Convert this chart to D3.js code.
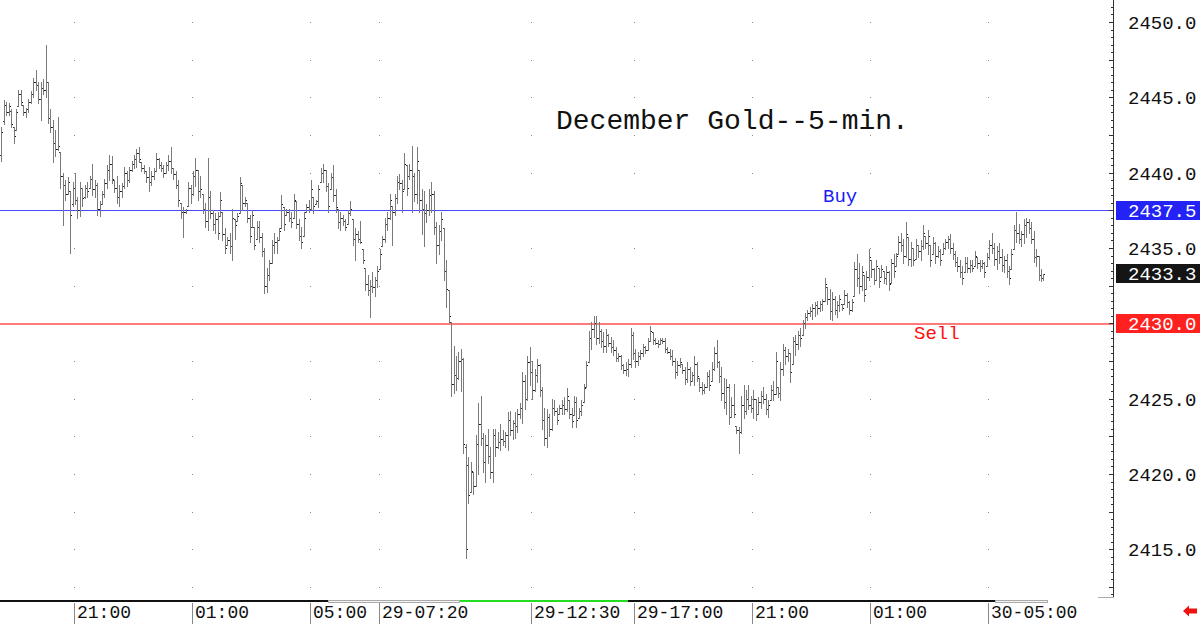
<!DOCTYPE html>
<html><head><meta charset="utf-8">
<script src="https://cdn.jsdelivr.net/npm/d3@7"></script>
<style>html,body{margin:0;padding:0;background:#fff;overflow:hidden}svg{display:block}</style>
</head><body>
<svg id="c" width="1200" height="624"></svg>
<script>
// ---- data (5-minute OHLC bars, December Gold) ----
const highs = [
2443.0,2444.8,2444.7,2444.6,2444.2,2443.0,2444.2,2445.5,2445.5,2444.5,
2444.3,2444.9,2445.4,2446.3,2446.8,2446.0,2446.0,2446.2,2448.5,2446.0,
2444.2,2443.5,2442.8,2443.7,2441.4,2440.0,2439.5,2439.7,2438.8,2439.4,
2440.0,2438.4,2439.4,2439.0,2439.2,2439.4,2439.8,2440.6,2439.5,2439.3,
2438.1,2438.8,2439.6,2440.5,2441.2,2441.1,2439.5,2439.8,2439.2,2439.3,
2440.4,2440.1,2440.4,2440.8,2441.2,2441.6,2441.7,2440.7,2440.5,2440.1,
2440.4,2440.1,2440.3,2441.3,2441.0,2440.7,2440.5,2440.7,2441.2,2441.7,
2440.3,2440.1,2439.5,2438.0,2437.7,2437.6,2439.4,2439.2,2440.1,2441.0,
2440.2,2439.8,2438.6,2438.0,2441.0,2438.8,2437.5,2437.3,2437.4,2438.7,
2437.4,2436.3,2435.7,2436.0,2437.6,2436.9,2437.3,2439.7,2439.2,2438.4,
2438.0,2437.2,2437.5,2436.4,2436.8,2436.8,2436.0,2435.0,2433.7,2434.2,
2435.5,2436.0,2435.7,2436.3,2438.5,2437.7,2437.6,2437.6,2437.4,2438.6,
2438.1,2436.9,2436.4,2437.4,2437.9,2438.2,2439.5,2438.4,2438.2,2439.2,
2440.3,2440.6,2440.2,2439.3,2440.0,2440.5,2438.9,2437.6,2437.4,2437.2,
2436.9,2437.5,2438.1,2436.9,2436.3,2436.1,2436.8,2434.9,2433.7,2433.2,
2432.9,2433.4,2433.1,2433.8,2434.9,2435.8,2437.0,2437.4,2438.6,2437.8,
2438.6,2439.8,2439.9,2439.5,2441.3,2440.5,2440.6,2441.8,2440.0,2441.7,
2440.2,2438.9,2438.8,2437.9,2438.9,2439.4,2438.8,2436.7,2436.5,2437.4,
2436.3,2434.2,2432.2,2430.1,2428.5,2427.8,2428.1,2428.3,2427.7,2422.0,
2421.1,2420.8,2420.1,2422.6,2424.7,2425.2,2422.7,2422.6,2423.0,2421.8,
2423.0,2423.0,2422.8,2423.3,2422.9,2422.8,2424.1,2424.2,2423.6,2424.1,
2424.3,2424.7,2426.8,2426.6,2427.8,2428.4,2427.5,2427.0,2427.6,2427.3,
2425.8,2424.4,2424.3,2424.0,2425.0,2424.9,2424.4,2424.6,2424.9,2425.1,
2425.7,2424.9,2424.4,2425.2,2425.1,2424.4,2424.9,2426.0,2427.5,2429.5,
2430.1,2430.5,2430.5,2430.1,2429.6,2429.4,2429.6,2429.3,2429.1,2428.9,
2428.4,2428.0,2427.9,2427.3,2427.4,2427.6,2429.7,2429.4,2428.3,2428.1,
2428.2,2428.6,2428.5,2429.0,2429.8,2429.4,2429.0,2428.9,2429.0,2429.0,
2429.0,2428.4,2428.3,2428.2,2427.7,2427.5,2427.7,2427.3,2427.1,2427.4,
2427.1,2426.8,2427.8,2427.4,2426.4,2426.1,2426.0,2426.8,2426.9,2427.4,
2428.4,2428.9,2427.5,2427.1,2426.4,2426.3,2426.0,2425.1,2426.0,2423.2,
2423.1,2425.2,2425.9,2425.6,2425.9,2425.2,2425.6,2425.0,2425.1,2425.5,
2425.8,2425.3,2424.9,2425.9,2426.2,2428.1,2425.8,2427.4,2428.6,2428.4,
2428.3,2428.0,2429.1,2429.2,2429.5,2429.7,2430.2,2430.7,2430.9,2431.1,
2431.3,2431.4,2431.5,2431.5,2431.6,2433.0,2432.4,2432.3,2432.1,2431.8,
2431.5,2431.9,2431.3,2432.2,2432.0,2431.5,2431.6,2434.1,2434.6,2434.0,
2433.8,2433.2,2433.5,2434.9,2434.2,2433.7,2434.2,2433.7,2433.9,2433.5,
2433.8,2433.5,2434.3,2434.6,2434.7,2435.8,2436.0,2435.6,2436.7,2435.7,
2435.4,2435.0,2435.6,2435.2,2435.5,2436.5,2435.8,2436.2,2435.2,2435.7,
2435.4,2435.1,2434.9,2435.3,2435.6,2435.8,2435.9,2435.3,2434.8,2434.4,
2434.2,2433.8,2434.4,2434.4,2434.2,2434.2,2434.8,2434.4,2434.2,2434.2,
2434.1,2434.7,2435.5,2436.0,2435.3,2435.1,2435.3,2434.9,2434.5,2434.6,
2433.8,2434.9,2436.5,2437.4,2436.6,2436.1,2436.9,2437.0,2436.9,2436.7,
2436.1,2434.9,2434.5,2433.6,2433.3];
const lows = [
2440.8,2443.2,2443.8,2443.8,2443.0,2442.0,2442.8,2444.4,2444.5,2443.8,
2443.7,2444.0,2444.6,2445.0,2445.5,2444.6,2443.5,2445.2,2445.0,2443.3,
2442.7,2440.7,2441.1,2441.5,2439.0,2436.5,2438.2,2438.6,2434.7,2437.8,
2437.9,2437.0,2437.1,2437.8,2438.3,2438.4,2439.0,2438.5,2438.4,2437.2,
2437.1,2437.9,2438.4,2439.0,2439.5,2439.3,2438.7,2438.0,2437.8,2438.4,
2439.0,2439.1,2439.4,2440.1,2440.3,2440.4,2440.7,2440.1,2440.0,2439.4,
2438.8,2439.2,2439.6,2440.1,2440.3,2440.1,2439.7,2440.0,2440.2,2440.0,
2439.6,2439.0,2437.8,2437.0,2435.7,2437.3,2437.8,2438.0,2438.5,2439.1,
2438.2,2438.4,2437.3,2436.4,2436.2,2437.0,2436.2,2436.0,2435.6,2437.1,
2435.5,2434.7,2435.2,2434.7,2434.2,2435.6,2436.8,2437.3,2437.5,2437.8,
2436.7,2435.4,2436.4,2434.9,2435.6,2435.4,2434.5,2432.0,2432.1,2432.9,
2434.0,2434.7,2434.7,2435.5,2436.3,2436.2,2437.2,2436.8,2436.4,2437.0,
2436.3,2435.5,2435.0,2435.8,2437.4,2437.4,2437.6,2437.3,2437.9,2437.7,
2439.4,2439.4,2438.8,2437.4,2438.9,2438.1,2437.4,2436.3,2436.2,2436.5,
2436.2,2436.6,2437.2,2435.2,2434.2,2435.4,2435.3,2434.0,2432.2,2431.9,
2430.4,2432.1,2431.8,2432.4,2433.6,2435.1,2435.4,2436.2,2436.9,2435.2,
2437.2,2438.0,2438.9,2437.4,2438.9,2438.5,2439.6,2437.4,2438.1,2438.0,
2437.4,2435.9,2435.1,2436.7,2437.2,2437.4,2435.9,2434.0,2434.6,2435.5,
2432.9,2431.1,2430.1,2425.2,2425.4,2425.6,2426.3,2425.5,2421.4,2414.4,
2418.1,2418.8,2418.7,2419.2,2420.0,2421.9,2420.1,2419.5,2420.7,2419.7,
2419.5,2421.2,2421.7,2421.6,2421.9,2421.8,2421.6,2422.6,2422.3,2422.4,
2422.8,2423.7,2423.4,2424.3,2424.9,2425.9,2425.0,2425.5,2426.1,2425.2,
2423.0,2421.9,2421.8,2422.5,2422.9,2423.9,2423.3,2424.0,2424.0,2424.0,
2424.2,2423.7,2423.1,2423.9,2423.1,2423.7,2423.9,2424.8,2425.8,2427.4,
2428.3,2429.1,2428.6,2428.7,2428.4,2428.1,2428.1,2428.5,2428.1,2427.9,
2427.5,2427.5,2427.0,2426.7,2426.6,2426.5,2427.1,2427.6,2427.1,2427.2,
2427.6,2427.8,2428.0,2428.2,2428.8,2428.6,2428.6,2428.4,2428.6,2428.7,
2428.1,2428.0,2427.6,2427.2,2426.4,2426.6,2427.1,2426.7,2426.0,2426.1,
2425.9,2426.2,2425.9,2426.2,2425.5,2425.3,2425.4,2425.8,2425.6,2426.2,
2426.9,2427.1,2426.1,2424.9,2424.4,2424.0,2423.3,2423.8,2423.8,2422.7,
2421.4,2422.7,2423.7,2424.0,2424.3,2424.1,2423.7,2423.6,2424.0,2424.4,
2424.7,2424.0,2423.8,2424.9,2424.9,2425.3,2425.1,2424.9,2426.6,2427.3,
2427.5,2426.1,2427.3,2427.9,2428.3,2428.5,2429.2,2429.7,2430.2,2430.5,
2430.3,2430.5,2430.6,2430.8,2430.9,2431.5,2431.3,2430.3,2430.2,2430.6,
2430.4,2430.8,2430.9,2431.3,2431.1,2430.6,2430.8,2431.8,2432.5,2432.0,
2432.2,2431.5,2432.3,2432.9,2433.1,2432.6,2432.9,2432.4,2433.1,2432.7,
2432.6,2432.2,2432.7,2433.1,2433.8,2434.6,2434.8,2434.0,2434.4,2433.9,
2433.8,2433.9,2434.3,2434.4,2434.2,2434.9,2435.0,2434.6,2433.8,2434.6,
2434.0,2434.4,2433.9,2434.6,2434.9,2435.0,2434.7,2434.3,2433.8,2433.5,
2433.1,2432.6,2433.4,2433.4,2433.4,2433.5,2433.8,2433.7,2433.5,2433.7,
2433.1,2433.8,2434.3,2434.7,2433.9,2433.6,2434.0,2433.5,2433.4,2433.1,
2432.6,2433.6,2434.9,2435.4,2435.3,2435.1,2435.3,2435.7,2436.0,2435.3,
2434.1,2433.8,2432.9,2432.8,2432.9];
const opens = [
2441.2,2443.4,2444.5,2444.0,2444.1,2443.0,2442.8,2444.4,2445.2,2444.5,
2444.0,2444.2,2444.7,2445.2,2446.0,2445.8,2444.9,2445.6,2445.5,2446.0,
2443.6,2443.0,2442.0,2441.6,2441.4,2439.8,2439.2,2438.6,2438.8,2437.9,
2439.0,2438.2,2437.5,2439.0,2438.4,2439.0,2439.0,2439.6,2438.9,2439.2,
2437.6,2437.9,2438.6,2439.3,2440.2,2440.6,2439.5,2439.0,2438.4,2438.8,
2439.1,2440.0,2439.5,2440.2,2440.6,2440.9,2441.3,2440.7,2440.3,2440.1,
2439.7,2439.4,2439.8,2440.1,2440.9,2440.5,2440.3,2440.0,2440.5,2440.8,
2440.3,2439.9,2439.2,2438.0,2437.4,2437.4,2437.8,2439.0,2438.6,2439.8,
2440.2,2438.8,2438.6,2437.6,2436.8,2438.4,2437.3,2436.6,2436.9,2437.1,
2437.4,2435.9,2435.2,2435.5,2435.1,2436.9,2436.8,2437.3,2439.2,2438.0,
2438.0,2437.0,2436.4,2436.4,2435.6,2436.4,2435.7,2434.8,2432.5,2433.2,
2434.0,2435.2,2435.4,2435.5,2436.3,2437.7,2437.2,2437.4,2437.0,2437.0,
2438.1,2436.6,2435.8,2435.8,2437.4,2437.7,2437.6,2438.4,2437.9,2438.1,
2439.4,2440.0,2440.2,2439.1,2438.9,2439.7,2438.5,2437.6,2436.7,2437.0,
2436.8,2436.6,2437.3,2436.9,2435.6,2435.9,2435.6,2434.9,2433.7,2432.6,
2432.2,2432.5,2432.4,2432.9,2433.6,2435.1,2435.6,2436.6,2437.0,2437.8,
2437.4,2438.3,2439.4,2439.3,2438.9,2440.5,2439.8,2440.2,2439.8,2438.6,
2440.2,2438.2,2437.6,2437.3,2437.5,2438.5,2438.6,2436.4,2435.2,2436.1,
2436.3,2433.5,2432.2,2430.1,2426.0,2426.6,2426.4,2427.5,2427.6,2421.8,
2420.6,2418.8,2420.1,2419.2,2422.0,2423.3,2422.4,2420.8,2421.9,2421.2,
2420.1,2422.6,2421.8,2422.1,2422.3,2422.2,2422.6,2423.6,2422.9,2423.4,
2423.2,2424.0,2424.4,2426.2,2425.0,2427.4,2426.8,2425.6,2426.6,2427.2,
2425.6,2423.6,2422.4,2423.8,2423.0,2424.4,2424.2,2424.0,2424.4,2424.6,
2424.3,2424.9,2424.0,2423.9,2424.8,2423.7,2424.2,2424.8,2425.8,2427.4,
2429.0,2429.6,2430.0,2429.0,2429.5,2428.8,2428.5,2429.2,2428.7,2428.4,
2428.2,2427.7,2427.8,2427.2,2426.9,2427.0,2427.3,2429.2,2428.0,2427.5,
2427.8,2428.0,2428.4,2428.2,2428.8,2429.4,2428.9,2428.7,2428.6,2428.9,
2428.8,2428.3,2428.1,2427.8,2427.5,2426.8,2427.2,2427.3,2426.9,2426.3,
2427.0,2426.2,2426.6,2427.3,2426.4,2425.8,2425.6,2425.8,2426.5,2426.2,
2427.0,2428.0,2427.4,2426.5,2425.4,2424.8,2425.8,2423.8,2424.6,2423.2,
2422.9,2422.8,2424.6,2424.2,2425.0,2424.6,2424.4,2425.0,2424.0,2424.8,
2425.2,2425.0,2424.3,2424.9,2425.6,2425.3,2425.8,2425.4,2427.0,2428.2,
2427.8,2428.0,2427.3,2428.8,2428.6,2429.2,2429.2,2430.0,2430.4,2430.7,
2430.8,2431.0,2431.2,2431.0,2431.3,2431.5,2432.4,2431.6,2430.8,2431.6,
2430.9,2431.2,2431.3,2431.3,2431.9,2431.4,2430.9,2431.8,2433.6,2433.0,
2432.5,2433.2,2432.3,2433.1,2434.2,2433.6,2432.9,2433.7,2433.1,2433.5,
2433.0,2433.4,2432.7,2434.0,2433.8,2434.6,2435.4,2435.2,2434.5,2435.7,
2434.3,2435.0,2434.3,2435.2,2434.8,2435.1,2435.8,2435.3,2435.2,2434.6,
2435.3,2434.5,2434.8,2434.6,2435.0,2435.4,2435.6,2435.0,2434.6,2434.1,
2433.8,2433.4,2433.4,2434.0,2433.7,2433.9,2433.8,2434.4,2434.0,2433.8,
2434.0,2433.8,2434.4,2435.2,2435.0,2434.3,2434.8,2434.4,2433.9,2434.2,
2433.5,2433.6,2434.9,2436.2,2436.0,2435.6,2435.9,2436.5,2436.7,2436.3,
2435.6,2434.4,2434.5,2433.2,2433.0];
const closes = [
2442.7,2444.5,2444.0,2444.4,2443.2,2442.4,2444.0,2445.2,2444.7,2444.0,
2444.2,2444.7,2445.2,2446.0,2445.8,2444.9,2445.6,2445.5,2446.0,2443.6,
2443.0,2442.0,2441.6,2441.8,2439.8,2439.2,2438.6,2439.4,2437.2,2439.0,
2438.2,2437.5,2439.0,2438.3,2439.0,2438.8,2439.6,2438.9,2439.2,2437.6,
2437.9,2438.6,2439.3,2440.2,2440.6,2439.6,2439.0,2438.4,2438.8,2439.1,
2440.0,2439.5,2440.2,2440.6,2440.9,2441.3,2440.9,2440.3,2440.1,2439.7,
2439.4,2439.8,2440.1,2440.9,2440.5,2440.3,2440.0,2440.5,2440.8,2440.3,
2439.9,2439.2,2438.2,2437.4,2437.4,2437.5,2439.0,2438.6,2439.8,2440.2,
2438.8,2438.9,2437.6,2436.8,2438.4,2437.3,2436.6,2436.9,2436.0,2438.2,
2435.9,2435.0,2435.5,2435.1,2437.0,2436.5,2437.1,2439.3,2438.0,2438.2,
2437.0,2435.8,2437.2,2435.2,2436.4,2435.7,2434.8,2432.5,2433.2,2434.0,
2435.2,2435.4,2435.5,2436.1,2437.9,2436.6,2437.4,2437.0,2436.7,2438.2,
2436.6,2435.8,2435.4,2437.0,2437.7,2437.6,2438.9,2437.8,2438.1,2438.9,
2440.0,2440.2,2439.1,2437.8,2439.7,2438.5,2437.7,2436.7,2437.0,2436.8,
2436.4,2437.3,2437.6,2435.6,2435.9,2435.6,2435.4,2434.2,2432.6,2432.2,
2432.5,2432.4,2432.9,2433.5,2434.6,2435.6,2436.6,2437.0,2438.2,2437.4,
2438.3,2439.4,2439.3,2438.8,2440.6,2439.0,2440.2,2439.8,2438.6,2440.8,
2438.2,2437.6,2437.3,2437.5,2438.5,2438.6,2436.4,2435.2,2436.1,2436.9,
2433.5,2432.3,2430.5,2426.0,2426.6,2426.4,2427.5,2427.6,2422.0,2415.0,
2418.6,2420.2,2419.2,2422.0,2423.3,2422.4,2420.8,2421.9,2421.2,2420.1,
2422.6,2421.8,2422.1,2422.3,2422.2,2422.6,2423.6,2422.9,2423.4,2423.2,
2424.0,2424.4,2426.2,2425.0,2427.4,2426.8,2425.6,2426.6,2427.2,2425.6,
2423.6,2422.4,2423.8,2423.0,2424.4,2424.2,2423.6,2424.4,2424.6,2424.3,
2425.2,2424.0,2423.5,2424.8,2423.6,2424.2,2424.6,2425.7,2427.2,2429.0,
2429.6,2430.0,2429.0,2429.5,2428.8,2428.5,2429.2,2428.7,2428.4,2428.2,
2427.7,2427.8,2427.2,2426.9,2427.0,2427.3,2429.2,2428.0,2427.5,2427.8,
2428.0,2428.4,2428.2,2428.8,2429.5,2428.9,2428.7,2428.6,2428.9,2428.8,
2428.3,2428.1,2427.8,2427.5,2426.8,2427.2,2427.4,2426.9,2426.3,2427.0,
2426.2,2426.6,2427.3,2426.5,2425.8,2425.6,2425.8,2426.5,2425.9,2427.0,
2428.0,2427.4,2426.5,2425.4,2424.8,2425.8,2423.8,2424.6,2424.0,2422.9,
2422.8,2424.6,2424.2,2425.0,2424.6,2424.4,2425.0,2424.0,2424.8,2425.2,
2425.0,2424.3,2424.6,2425.6,2425.3,2427.5,2425.4,2427.0,2428.2,2427.8,
2428.0,2426.8,2428.8,2428.6,2429.2,2429.0,2430.0,2430.4,2430.7,2430.8,
2431.0,2431.2,2431.0,2431.3,2431.5,2432.6,2431.6,2430.8,2431.6,2430.9,
2431.2,2431.6,2431.0,2431.9,2431.4,2430.9,2431.4,2433.6,2433.0,2432.5,
2433.4,2431.9,2433.1,2434.4,2433.6,2432.9,2433.8,2432.8,2433.6,2433.0,
2433.4,2432.6,2434.0,2433.5,2434.5,2435.4,2435.2,2434.5,2435.9,2434.3,
2435.0,2434.2,2435.2,2434.8,2435.1,2436.0,2435.3,2435.8,2434.2,2435.3,
2434.5,2434.8,2434.2,2435.0,2435.4,2435.6,2435.0,2434.6,2434.1,2433.8,
2433.4,2433.0,2434.0,2433.7,2433.9,2433.7,2434.5,2434.0,2433.8,2434.0,
2433.4,2434.4,2435.2,2435.0,2434.3,2434.8,2434.4,2433.9,2434.2,2433.5,
2433.0,2434.6,2436.2,2436.0,2435.6,2435.9,2436.5,2436.7,2436.3,2435.6,
2434.4,2434.5,2433.2,2433.0,2433.3];

const timeLabels = ["21:00","01:00","05:00","29-07:20","29-12:30","29-17:00","21:00","01:00","30-05:00"];
const timeLabelBar = [30,78,126,154,216,258,306,354,402];
const priceTicks = [2415,2420,2425,2430,2435,2440,2445,2450];
const buyLevel = 2437.5, sellLevel = 2430.0;
const lastPrice = closes[closes.length-1];
const title = "December Gold--5-min.";

// ---- drawing ----
const svg = d3.select("#c");
svg.append("rect").attr("width",1200).attr("height",624).attr("fill","#fff");
const MONO = "'Liberation Mono','DejaVu Sans Mono',monospace";

const x = d3.scaleLinear().domain([0, 424]).range([1.26, 1.26 + 424*2.458]);
const y = d3.scaleLinear().domain([2415, 2450]).range([549.3, 22]);
const axisX = 1113;

// grid dots
const gridVals = d3.range(2412.5, 2452.6, 2.5);
const dots = svg.append("g");
timeLabelBar.forEach(b => {
  const gx = Math.round(x(b)) - 1;
  gridVals.forEach(v => {
    dots.append("rect").attr("x", gx).attr("y", Math.round(y(v))).attr("width",1).attr("height",1).attr("fill","#8a8a8a");
  });
});

// buy / sell lines
svg.append("rect").attr("x",0).attr("width",axisX).attr("y",Math.round(y(buyLevel))).attr("height",1)
  .attr("fill","#4848ff").attr("shape-rendering","crispEdges");
svg.append("rect").attr("x",0).attr("width",axisX).attr("y",Math.round(y(sellLevel))).attr("height",2)
  .attr("fill","#ff7a7a").attr("shape-rendering","crispEdges");

// OHLC bars
const bars = svg.append("g").attr("shape-rendering","crispEdges");
highs.forEach((h, i) => {
  const bx = Math.round(x(i));
  const yh = Math.round(y(h)), yl = Math.round(y(lows[i]));
  bars.append("rect").attr("x", bx).attr("y", yh).attr("width",1).attr("height", Math.max(1, yl - yh + 1)).attr("fill","#7a7a7a");
  bars.append("rect").attr("x", bx-1).attr("y", Math.round(y(opens[i]))).attr("width",1).attr("height",1).attr("fill","#333");
  bars.append("rect").attr("x", bx+1).attr("y", Math.round(y(closes[i]))).attr("width",1).attr("height",1).attr("fill","#111");
});

// title and level labels
svg.append("text").attr("x",556).attr("y",129).attr("font-family",MONO).attr("font-size",28).attr("fill","#111").text(title);
svg.append("text").attr("x",823).attr("y",202).attr("font-family",MONO).attr("font-size",19).attr("fill","#1a1aff").text("Buy");
svg.append("text").attr("x",914).attr("y",339).attr("font-family",MONO).attr("font-size",19).attr("fill","#ff1010").text("Sell");

// right price axis
const minor = svg.append("g").attr("transform",`translate(${axisX+0.5},0)`)
  .call(d3.axisLeft(y).tickValues(d3.range(2412, 2451.1, 0.5)).tickSize(3).tickFormat(""));
minor.select(".domain").remove();
minor.selectAll("line").attr("stroke","#333").attr("shape-rendering","crispEdges");
const major = svg.append("g").attr("transform",`translate(${axisX+0.5},0)`)
  .call(d3.axisLeft(y).tickValues(priceTicks.concat([2412.5,2417.5,2422.5,2427.5,2432.5,2437.5,2442.5,2447.5])).tickSize(5).tickFormat(""));
major.select(".domain").remove();
major.selectAll("line").attr("stroke","#333").attr("shape-rendering","crispEdges");
svg.append("line").attr("x1",axisX+0.5).attr("x2",axisX+0.5).attr("y1",0).attr("y2",598).attr("stroke","#333").attr("shape-rendering","crispEdges");
svg.append("line").attr("x1",1098).attr("x2",axisX+1).attr("y1",597.5).attr("y2",597.5).attr("stroke","#aaa");

const lab = svg.append("g").attr("transform",`translate(${axisX},0)`)
  .call(d3.axisRight(y).tickValues(priceTicks).tickSize(0).tickPadding(15).tickFormat(d3.format(".1f")));
lab.select(".domain").remove();
lab.selectAll("text").attr("font-family",MONO).attr("font-size",19).attr("fill","#111").attr("dy","0.35em");

// price boxes
function box(v, fill) {
  const cy = y(v);
  svg.append("rect").attr("x",axisX+3).attr("y",Math.round(cy-9.5)).attr("width",84).attr("height",19).attr("fill",fill);
  svg.append("text").attr("x",axisX+15).attr("y",cy).attr("dy","0.35em").attr("font-family",MONO).attr("font-size",19)
    .attr("fill","#fff").text(d3.format(".1f")(v));
}
box(buyLevel, "#2323f5");
box(lastPrice, "#151515");
box(sellLevel, "#ff2020");

// bottom time axis
const base = svg.append("g").attr("shape-rendering","crispEdges");
base.append("rect").attr("x",0).attr("y",600).attr("width",328).attr("height",2).attr("fill","#111");
base.append("rect").attr("x",328.5).attr("y",600.5).attr("width",131).attr("height",2).attr("fill","#f4f4f4").attr("stroke","#aaa");
base.append("rect").attr("x",460).attr("y",600).attr("width",168).attr("height",2).attr("fill","#22dd22");
base.append("rect").attr("x",628).attr("y",600).attr("width",367).attr("height",2).attr("fill","#111");
base.append("rect").attr("x",995.5).attr("y",600.5).attr("width",52).attr("height",2).attr("fill","#f4f4f4").attr("stroke","#aaa");

const tx = svg.append("g");
timeLabels.forEach((t, k) => {
  const lx = Math.round(x(timeLabelBar[k])) - 1;
  tx.append("line").attr("x1",lx+0.5).attr("x2",lx+0.5).attr("y1",603).attr("y2",624).attr("stroke","#888");
  tx.append("text").attr("x",lx+3).attr("y",618).attr("font-family",MONO).attr("font-size",18).attr("fill","#111").text(t);
});

// small red arrow at bottom right
svg.append("path").attr("d","M1183,611 L1189,605.5 L1189,608.5 L1197,608.5 L1197,613.5 L1189,613.5 L1189,616.5 Z").attr("fill","#ee1111");
</script>
</body></html>
